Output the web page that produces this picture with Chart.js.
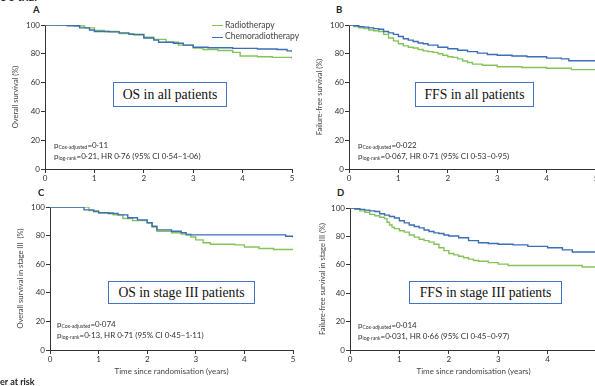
<!DOCTYPE html>
<html>
<head>
<meta charset="utf-8">
<script src="https://cdn.jsdelivr.net/npm/chart.js@4.4.0/dist/chart.umd.min.js"></script>
<style>
  html, body { margin:0; padding:0; width:595px; height:386px; overflow:hidden; background:#fff; }
  body { position:relative; font-family: Lato, "Liberation Sans", sans-serif; color:#333; }
  canvas { position:absolute; }
  .t { position:absolute; white-space:nowrap; }
  .letter { font-weight:bold; font-size:9.5px; color:#222; }
  .pv { font-size:8px; line-height:11px; color:#333; }
  .pv sub { font-size:5px; vertical-align:-1px; line-height:0; }
  .box { position:absolute; border:1px solid #4472c4; background:#fff; box-sizing:border-box;
         font-family:"Liberation Serif", "DejaVu Serif", serif; font-size:13.7px; color:#111;
         display:flex; align-items:center; justify-content:center; }
  .leg { font-size:8.5px; color:#444; }
  .legline { position:absolute; height:0; border-top:1.5px solid; }
</style>
</head>
<body>
<script>
// ---- data (years, %) ----
const seriesNames = ["Radiotherapy", "Chemoradiotherapy"];
const xTicks = [0, 1, 2, 3, 4, 5];
const yTicks = [0, 20, 40, 60, 80, 100];

// A: OS in all patients
const osAllRT_t  = [0,0.3,0.6,0.8,1.0,1.2,1.5,1.8,2.0,2.2,2.45,2.7,3.0,3.2,3.5,3.8,3.95,4.3,4.6,5.0];
const osAllRT_v  = [100,99.8,99.3,98,96.3,95.5,94,93,91.5,90,88,86,84,83,82.3,81,78.5,78,77.5,76.5];
const osAllCRT_t = [0,0.45,0.7,0.9,1.0,1.3,1.5,1.7,2.0,2.2,2.3,2.6,2.8,3.0,3.3,3.8,4.3,4.7,4.9,5.0];
const osAllCRT_v = [100,99.5,98,96.5,95.5,95.2,94.5,93.5,91,89.5,88,87.3,86,84.5,84.2,83.8,83.3,83,82,81.2];

// B: FFS in all patients
const ffsAllRT_t  = [0,0.1,0.2,0.3,0.4,0.5,0.6,0.7,0.8,0.9,1.0,1.1,1.2,1.3,1.4,1.5,1.6,1.7,1.8,1.9,2.0,2.1,2.2,2.3,2.4,2.5,2.7,3.0,3.5,4.0,4.5,5.0];
const ffsAllRT_v  = [100,99,98,97.5,96.5,96,95.5,93.5,91,89,87,85.5,84.5,84,83,82,81.5,81,80,79,78,77.5,76.5,75,74,72.8,72,71,70.5,70,69,68];
const ffsAllCRT_t = [0,0.1,0.2,0.3,0.4,0.5,0.6,0.7,0.8,0.9,1.0,1.1,1.2,1.3,1.4,1.5,1.6,1.8,2.0,2.2,2.4,2.6,2.8,3.0,3.3,3.6,4.0,4.3,4.45,5.0];
const ffsAllCRT_v = [100,99.5,98.8,98.5,98,97.5,97,95.5,94.5,93.5,92,90.5,89.5,88.5,87.5,87,86,84.5,83.5,82.5,81.5,80.5,79.5,79,78.5,78,77,76.5,75.2,75];

// C: OS in stage III patients
const osS3RT_t  = [0,0.55,0.8,1.0,1.3,1.5,1.7,2.0,2.1,2.2,2.5,2.7,2.9,3.0,3.15,3.3,3.8,4.0,4.3,4.6,5.0];
const osS3RT_v  = [100,100,97.5,96,94.5,92,90.5,89,86,83,82,81,79,77,75,74,73.5,72,71,70.3,70];
const osS3CRT_t = [0,0.55,0.7,0.9,1.0,1.2,1.4,1.6,1.8,2.0,2.1,2.2,2.5,2.7,2.8,3.0,4.0,4.7,4.85,5.0];
const osS3CRT_v = [100,100,98,96.8,96,95.5,94.5,92.5,91,89,86.5,84,83,82,80.5,80.5,80.5,80.5,79.5,78.6];

// D: FFS in stage III patients
const ffsS3RT_t  = [0,0.1,0.2,0.3,0.4,0.5,0.6,0.7,0.75,0.8,0.85,0.9,1.0,1.1,1.2,1.3,1.4,1.5,1.6,1.7,1.8,1.9,2.0,2.1,2.2,2.3,2.4,2.5,2.6,2.8,3.0,3.2,4.5,4.7,5.0];
const ffsS3RT_v  = [100,99,98,97,95.5,94.5,93.5,92.5,90,88,86.5,85.5,84,83,81,79.5,78,77,76,74.5,72,70,68,67,66,65,64,63,62.5,61.5,60.5,59.5,59.5,58.5,57.5];
const ffsS3CRT_t = [0,0.1,0.2,0.3,0.4,0.5,0.6,0.7,0.8,0.9,1.0,1.1,1.2,1.3,1.4,1.5,1.6,1.7,1.8,1.9,2.0,2.2,2.4,2.6,2.8,3.0,3.3,3.6,4.0,4.3,4.5,5.0];
const ffsS3CRT_v = [100,99.5,99,98.5,98,97.5,96,95,94,93,91,89.5,88,87,86,84.5,83.5,82.5,82,81,80.3,79,77,75.5,75,74.5,74,73,72,70.5,69,69];

const COLORS = { rt: "#84c35a", crt: "#3c6eb4" };
const FONT = "Lato, 'Liberation Sans', sans-serif";

function pts(t, v) { return t.map((x, i) => ({ x: x, y: v[i] })); }

function addText(cls, html, left, top, extra) {
  const d = document.createElement("div");
  d.className = "t " + cls;
  d.innerHTML = html;
  d.style.left = left + "px";
  d.style.top = top + "px";
  if (extra) Object.assign(d.style, extra);
  document.body.appendChild(d);
  return d;
}

function makePanel(p) {
  const c = document.createElement("canvas");
  c.width = p.w; c.height = p.h;
  c.style.left = p.left + "px"; c.style.top = p.top + "px";
  c.style.width = p.w + "px"; c.style.height = p.h + "px";
  document.body.appendChild(c);
  new Chart(c.getContext("2d"), {
    type: "line",
    data: {
      datasets: [
        { label: seriesNames[1], data: pts(p.crtT, p.crtV), borderColor: COLORS.crt, borderWidth: 1.4,
          pointRadius: 0, stepped: true, fill: false },
        { label: seriesNames[0], data: pts(p.rtT, p.rtV), borderColor: COLORS.rt, borderWidth: 1.4,
          pointRadius: 0, stepped: true, fill: false }
      ]
    },
    options: {
      responsive: false, animation: false, devicePixelRatio: 1,
      layout: { padding: { top: 8, right: 8, left: 0, bottom: 0 } },
      plugins: { legend: { display: false }, tooltip: { enabled: false } },
      scales: {
        x: {
          type: "linear", min: 0, max: 5,
          afterBuildTicks: s => { s.ticks = xTicks.map(v => ({ value: v })); },
          ticks: { font: { family: FONT, size: 8 }, color: "#333", padding: 1, maxRotation: 0 },
          grid: { display: true, drawOnChartArea: false, drawTicks: true, tickLength: 4, color: "#333" },
          border: { display: true, color: "#333", width: 1 },
          title: { display: !!p.xTitle, text: p.xTitle || "", font: { family: FONT, size: 8 }, color: "#444",
                   padding: { top: 0, bottom: 10 } },
          afterFit: s => { s.height = p.xh; }
        },
        y: {
          min: 0, max: 100,
          afterBuildTicks: s => { s.ticks = yTicks.map(v => ({ value: v })); },
          ticks: { font: { family: FONT, size: 8 }, color: "#333", padding: 1 },
          grid: { display: true, drawOnChartArea: false, drawTicks: true, tickLength: 4, color: "#333" },
          border: { display: true, color: "#333", width: 1 },
          title: { display: true, text: p.yTitle, font: { family: FONT, size: 7.5 }, color: "#444",
                   padding: { top: p.yTitlePad, bottom: 0 } },
          afterFit: s => { s.width = p.yw; }
        }
      }
    }
  });
}

makePanel({ left: 0, top: 17, w: 300, h: 169, yw: 45, xh: 17, yTitlePad: 11,
  yTitle: "Overall survival (%)", xTitle: null,
  rtT: osAllRT_t, rtV: osAllRT_v, crtT: osAllCRT_t, crtV: osAllCRT_v });
makePanel({ left: 304, top: 17, w: 300, h: 169, yw: 45, xh: 17, yTitlePad: 11,
  yTitle: "Failure-free survival (%)", xTitle: null,
  rtT: ffsAllRT_t, rtV: ffsAllRT_v, crtT: ffsAllCRT_t, crtV: ffsAllCRT_v });
makePanel({ left: 0, top: 199, w: 301, h: 187, yw: 50, xh: 36, yTitlePad: 16,
  yTitle: "Overall survival in stage III  (%)", xTitle: "Time since randomisation (years)",
  rtT: osS3RT_t, rtV: osS3RT_v, crtT: osS3CRT_t, crtV: osS3CRT_v });
makePanel({ left: 305, top: 200, w: 300, h: 186, yw: 45, xh: 36, yTitlePad: 13,
  yTitle: "Failure-free survival in stage III (%)", xTitle: "Time since randomisation (years)",
  rtT: ffsS3RT_t, rtV: ffsS3RT_v, crtT: ffsS3CRT_t, crtV: ffsS3CRT_v });

// header fragments (cropped in the reference)
addText("", "e 3 trial", 0, -10, { fontWeight: "bold", fontSize: "11px", color: "#222" });
addText("", "er at risk", 0, 376, { fontWeight: "bold", fontSize: "9px", color: "#222" });

// panel letters
addText("letter", "A", 33, 4);
addText("letter", "B", 336, 4);
addText("letter", "C", 38, 187);
addText("letter", "D", 337, 187);

// legend (panel A)
[[seriesNames[0], COLORS.rt, 25.5], [seriesNames[1], COLORS.crt, 37]].forEach(([name, col, y]) => {
  const l = document.createElement("div");
  l.className = "legline";
  l.style.left = "212px"; l.style.width = "11px"; l.style.top = (y - 0.5) + "px"; l.style.borderColor = col;
  document.body.appendChild(l);
  addText("leg", name, 225, y - 6);
});

// boxes
function addBox(text, l, t, r, b) {
  const d = document.createElement("div");
  d.className = "box"; d.textContent = text;
  d.style.left = l + "px"; d.style.top = t + "px";
  d.style.width = (r - l) + "px"; d.style.height = (b - t) + "px";
  document.body.appendChild(d);
}
addBox("OS in all patients", 113, 82, 227, 107);
addBox("FFS in all patients", 415, 82, 534, 107);
addBox("OS in stage III patients", 108, 281, 255, 304);
addBox("FFS in stage III patients", 409, 281, 562, 304);

// p-value annotations
function addP(l, t, p1, rest) {
  addText("pv", "p<sub>Cox-adjusted</sub>=" + p1 + "<br>p<sub>log-rank</sub>=" + rest, l, t);
}
addP(54, 140, "0·11", "0·21, HR 0·76 (95% CI 0·54–1·06)");
addP(358, 140, "0·022", "0·067, HR 0·71 (95% CI 0·53–0·95)");
addP(57, 319, "0·074", "0·13, HR 0·71 (95% CI 0·45–1·11)");
addP(358, 320, "0·014", "0·031, HR 0·66 (95% CI 0·45–0·97)");
</script>
</body>
</html>
